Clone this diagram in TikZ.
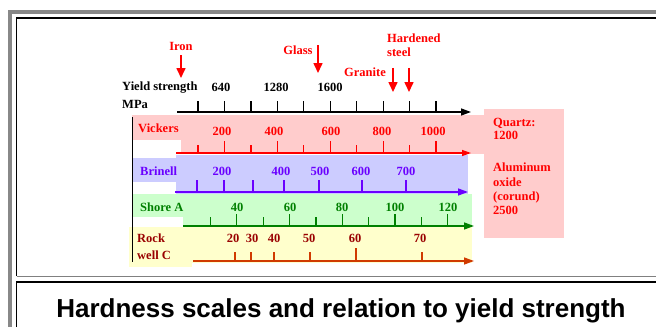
\documentclass[tikz,border=0pt]{standalone}
\usepackage{fontspec}
\setmainfont{Liberation Serif}
\newfontfamily\titlefont{Liberation Sans}
\usetikzlibrary{arrows.meta,positioning}
\definecolor{framegray}{HTML}{888888}
\definecolor{bandred}{HTML}{FFCCCC}
\definecolor{bandblue}{HTML}{CCCCFF}
\definecolor{bandgreen}{HTML}{CCFFCC}
\definecolor{bandyellow}{HTML}{FFFFCC}
\definecolor{brinellviolet}{HTML}{6A00FF}
\definecolor{shoregreen}{HTML}{008000}
\definecolor{rockred}{HTML}{990000}
\definecolor{rockaxis}{HTML}{D03A00}

\begin{document}
\begin{tikzpicture}[
    x=1pt, y=-1pt,
    lbl/.style={font=\bfseries\fontsize{12.5}{14}\selectfont, inner sep=0pt},
    num/.style={lbl},
    scalename/.style={lbl, anchor=west, align=left},
    axis/.style={line width=1.4pt, -{Triangle[width=7pt,length=10pt]}},
    tick/.style={line width=1.2pt},
    annot/.style={red, line width=1.6pt, shorten <=5pt, -{Triangle[width=9pt,length=10pt]}},
]
    \useasboundingbox (0,0) rectangle (656,327);

    % Frames
    \fill [framegray] (8,10) rectangle (12,327);
    \fill [framegray] (8,10) rectangle (656,14);
    \draw [line width=1.2pt] (16.5,276) -- (16.5,18) -- (656,18);
    \draw [gray, line width=1pt] (16.5,276) -- (656,276);
    \draw [line width=1.2pt] (16.5,327) -- (16.5,282) -- (656,282);

    % Bands
    \fill [bandred] (132,115) rectangle (183,140);
    \fill [bandred] (181,115) rectangle (484,154);
    \fill [bandred] (484,109) rectangle (564,238);
    \fill [bandblue] (132,158) rectangle (183,182);
    \fill [bandblue] (176,155) rectangle (468,194);
    \fill [bandgreen] (132,194) rectangle (186,217);
    \fill [bandgreen] (183,194) rectangle (472,228);
    \fill [bandyellow] (129,227) rectangle (192,267);
    \fill [bandyellow] (192,227) rectangle (472,263);
    \draw [line width=1pt] (132,117) -- (132,262);

    % Materials
    \node [lbl, red] (iron) at (181,46) {Iron};
    \coordinate (ironTip) at (181,78);
    \node [lbl, red] (glass) at (298,50) {Glass};
    \coordinate (glassTip) at (318,73);
    \node [lbl, red] (granite) at (365,72.5) {Granite};
    \coordinate (graniteTip) at (393,92);
    \node [lbl, red, align=left, anchor=west] (steel) at (387,45) {Hardened\\steel};
    \coordinate (steelTip) at (409,92);

    \draw [annot] (iron) -- (ironTip);
    \draw [annot, shorten <=0pt] (glassTip |- glass.north) -- (glassTip);
    \draw [annot, shorten <=0pt] (graniteTip |- granite.north) -- (graniteTip);
    \draw [annot, shorten <=0pt] (steelTip |- granite.north) -- (steelTip);

    % Yield strength
    \node [scalename] (yield) at (122,87.5) {Yield strength};
    \node [scalename] (mpa) at (122,104) {MPa};
    \node [num] (y640) at (221,87) {640};
    \node [num] (y1280) at (276,87) {1280};
    \node [num] (y1600) at (330,87) {1600};
    \coordinate (yieldStart) at (177,112);
    \coordinate (yieldEnd) at (471,112);
    \draw [axis] (yieldStart) -- (yieldEnd);
    \foreach \i in {0,...,9}
        \draw [tick] (198+26.45*\i,101) -- (198+26.45*\i,112);

    % Vickers
    \node [scalename, red] (vickers) at (138,128) {Vickers};
    \foreach \v/\x in {200/222,400/274,600/331,800/382,1000/433}
        \node [num, red] (vick\v) at (\x,131) {\v};
    \coordinate (vickStart) at (176,153);
    \coordinate (vickEnd) at (471,153);
    \draw [axis, red, line width=1.3pt, -{Triangle[width=6pt,length=9pt]}] (vickStart) -- (vickEnd);
    \foreach \i in {0,...,9}{
        \pgfmathsetmacro{\ytop}{isodd(\i) ? 141 : 145}
        \draw [tick, red] (198+26.45*\i,\ytop) -- (198+26.45*\i,153);
    }

    % Brinell
    \node [scalename, brinellviolet] (brinell) at (140,171) {Brinell};
    \foreach \v/\x in {200/222,400/281,500/320,600/361,700/406}
        \node [num, brinellviolet] (brin\v) at (\x,171) {\v};
    \coordinate (brinStart) at (175,192);
    \coordinate (brinEnd) at (468,192);
    \draw [axis, brinellviolet] (brinStart) -- (brinEnd);
    \foreach \x in {197,224,253,284,319,362,406}
        \draw [tick, brinellviolet] (\x,180) -- (\x,192);

    % Shore A
    \node [scalename, shoregreen] (shore) at (140,207) {Shore A};
    \foreach \v/\x in {40/237,60/290,80/342,100/395,120/448}
        \node [num, shoregreen] (shore\v) at (\x,207) {\v};
    \coordinate (shoreStart) at (183,226);
    \coordinate (shoreEnd) at (474,226);
    \draw [axis, shoregreen] (shoreStart) -- (shoreEnd);
    \foreach \i in {0,...,9}{
        \pgfmathsetmacro{\ytop}{isodd(\i) ? 214 : 217}
        \draw [tick, shoregreen] (210.5+26.35*\i,\ytop) -- (210.5+26.35*\i,226);
    }

    % Rockwell C
    \node [scalename, rockred, font=\bfseries\fontsize{12.5}{16.5}\selectfont] (rockwell) at (137,246.5) {Rock\\well C};
    \foreach \v/\x in {20/233,30/252,40/274,50/309,60/355,70/420}
        \node [num, rockred] (rock\v) at (\x,238) {\v};
    \coordinate (rockStart) at (193,261);
    \coordinate (rockEnd) at (474,261);
    \draw [axis, rockaxis] (rockStart) -- (rockEnd);
    \foreach \x/\ytop in {235/252,251/252,274/252,310/252,356/248,422/252}
        \draw [tick, rockaxis] (\x,\ytop) -- (\x,261);

    % Notes
    \node [scalename, red, font=\bfseries\fontsize{12.5}{13}\selectfont] (quartz) at (493,128.5) {Quartz:\\1200};
    \node [scalename, red, font=\bfseries\fontsize{12.5}{14.3}\selectfont] (corund) at (493,189) {Aluminum\\oxide\\(corund)\\2500};

    % Title
    \node [font=\titlefont\bfseries\fontsize{26}{30}\selectfont, inner sep=0pt, anchor=base] (title) at (341,317) {Hardness scales and relation to yield strength};

\end{tikzpicture}
\end{document}
